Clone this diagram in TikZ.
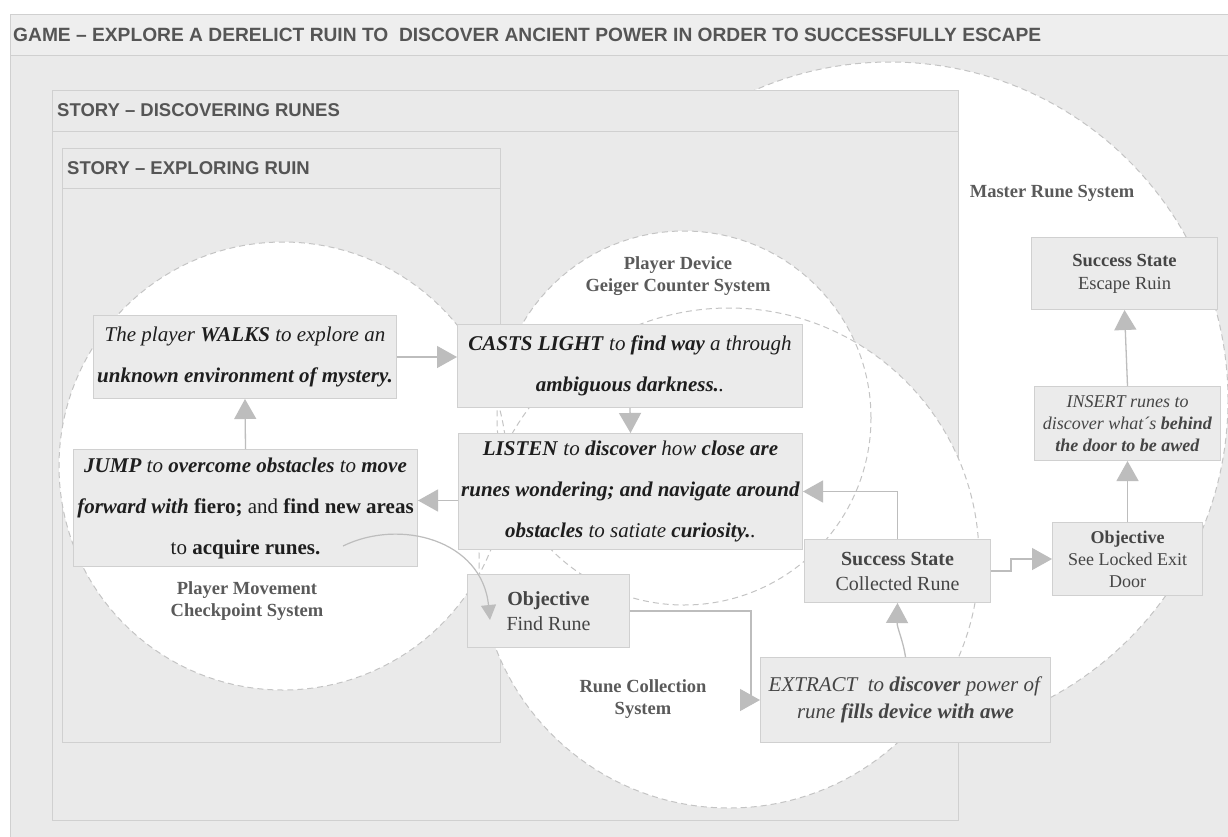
\documentclass[tikz,border=0pt]{standalone}
\usepackage{fontspec}
\setmainfont{Liberation Serif}
\newfontfamily\hdrfont{Liberation Sans}
\usetikzlibrary{arrows.meta}
\definecolor{bgc}{HTML}{EAEAEA}
\definecolor{bandc}{HTML}{EEEEEE}
\definecolor{boxfill}{HTML}{EBEBEB}
\definecolor{boxline}{HTML}{D0D0D0}
\definecolor{arrowc}{HTML}{BDBDBD}
\definecolor{dashc}{HTML}{C4C4C4}
\definecolor{hdrtext}{HTML}{555555}
\definecolor{lbltext}{HTML}{5A5A5A}
\definecolor{txtdark}{HTML}{1E1E1E}
\definecolor{txtgray}{HTML}{454545}
\tikzset{
  frame/.style={draw=boxline, fill=bgc, line width=1pt},
  circfill/.style={fill=white},
  circline/.style={draw=dashc, line width=1pt, dash pattern=on 6pt off 4pt},
  box/.style={draw=boxline, fill=boxfill, line width=1pt, anchor=north west, inner sep=0pt, align=center},
  bigtxt/.style={font=\fontsize{21}{41}\selectfont, text=txtdark},
  midtxt/.style={font=\fontsize{20}{25}\selectfont, text=txtgray},
  smalltxt/.style={font=\fontsize{18}{22}\selectfont, text=txtgray},
  lbl/.style={align=center, font=\fontsize{18.5}{22}\selectfont\bfseries, text=lbltext, inner sep=0pt},
  hdrtxt/.style={anchor=west, font=\hdrfont\fontsize{18.5}{20}\selectfont\bfseries, text=hdrtext, inner sep=0pt},
  conn/.style={draw=arrowc, line width=1.3pt, -{Triangle[length=20pt,width=22pt]}},
  connsmall/.style={draw=arrowc, line width=1.2pt, -{Triangle[length=15pt,width=15pt]}}
}
\begin{document}
\begin{tikzpicture}[x=1pt,y=-1pt]
\useasboundingbox (0,0) rectangle (1228,836);
\fill[white] (0,0) rectangle (1228,836);
% game frame
\draw[frame] (10,14) rectangle (1240,850);
\draw[draw=boxline, fill=bandc, line width=1pt] (10,14) rectangle (1240,55);
\node[hdrtxt, font=\hdrfont\fontsize{19.2}{20}\selectfont\bfseries] (gtitle) at (13,35) {GAME – EXPLORE A DERELICT RUIN TO\ \ DISCOVER ANCIENT POWER IN ORDER TO SUCCESSFULLY ESCAPE};
% master rune circle
\fill[circfill] (890,400) circle[radius=338pt];
\draw[circline] (890,400) circle[radius=338pt];
% story discovering runes
\draw[frame] (52,90) rectangle (958,820);
\draw[boxline, line width=1pt] (52,131) -- (958,131);
\node[hdrtxt] (sdisc) at (57,110) {STORY – DISCOVERING RUNES};
% story exploring ruin
\draw[frame] (62,148) rectangle (500,742);
\draw[boxline, line width=1pt] (62,188) -- (500,188);
\node[hdrtxt] (sexpl) at (67,168) {STORY – EXPLORING RUIN};
% circles
\fill[circfill] (283,466) circle[radius=224pt];
\fill[circfill] (684,418) circle[radius=187pt];
\fill[circfill] (729,558) circle[radius=250pt];
\draw[circline] (283,466) circle[radius=224pt];
\draw[circline] (684,418) circle[radius=187pt];
\draw[circline] (729,558) circle[radius=250pt];
% labels
\node[lbl] (pmlbl) at (247,601) {Player Movement\\Checkpoint System};
\node[lbl] (pdlbl) at (678,276) {Player Device\\Geiger Counter System};
\node[lbl] (rclbl) at (643,699) {Rune Collection\\System};
\node[lbl] (mrlbl) at (1052,193) {Master Rune System};
% boxes
\node[box, bigtxt, minimum width=303pt, minimum height=83pt] (walk) at (93,315)
  {\textit{The player \textbf{WALKS} to explore an}\\\textbf{\textit{unknown environment of mystery.}}};
\node[box, bigtxt, minimum width=345pt, minimum height=83pt] (cast) at (457,324)
  {\textbf{\textit{CASTS LIGHT}} \textit{to \textbf{find way} a through}\\\textbf{\textit{ambiguous darkness.}}\textit{.}};
\node[box, bigtxt, minimum width=344pt, minimum height=116pt] (listen) at (458,433)
  {\textbf{\textit{LISTEN}} \textit{to \textbf{discover} how \textbf{close are}}\\\textbf{\textit{runes wondering; and navigate around}}\\\textit{\textbf{obstacles} to satiate \textbf{curiosity.}.}};
\node[box, bigtxt, minimum width=344pt, minimum height=117pt] (jump) at (73,449)
  {\textbf{\textit{JUMP}} \textit{to \textbf{overcome obstacles} to \textbf{move}}\\\textbf{\textit{forward with}} \textbf{fiero;} and \textbf{find new areas}\\to \textbf{acquire runes.}};
\node[box, midtxt, minimum width=162pt, minimum height=73pt] (findr) at (467,574)
  {\textbf{Objective}\\Find Rune};
\node[box, midtxt, minimum width=186pt, minimum height=63pt] (coll) at (804,539)
  {\textbf{Success State}\\Collected Rune};
\node[box, midtxt, minimum width=290pt, minimum height=85pt, font=\fontsize{21}{27}\selectfont] (extr) at (760,657)
  {\textit{EXTRACT\ \ to \textbf{discover} power of}\\\textit{rune \textbf{fills device with awe}}};
\node[box, smalltxt, minimum width=150pt, minimum height=73pt] (seel) at (1052,522)
  {\textbf{Objective}\\See Locked Exit\\Door};
\node[box, smalltxt, minimum width=186pt, minimum height=74pt] (insr) at (1034,386)
  {\textit{INSERT runes to}\\\textit{discover what´s \textbf{behind}}\\\textbf{\textit{the door to be awed}}};
\node[box, smalltxt, minimum width=186pt, minimum height=72pt, font=\fontsize{18.5}{23}\selectfont] (escp) at (1031,237)
  {\textbf{Success State}\\Escape Ruin};
% connectors
\draw[conn] (walk.east) -- (walk.east -| cast.west);
\draw[conn] (cast.south) -- (listen.north);
\draw[conn] ([yshift=-9pt]listen.west) -- ([yshift=-9pt]listen.west -| jump.east);
\draw[conn] (jump.north) -- (walk.south);
\coordinate (cstart) at (343,546);
\coordinate (ctip) at (490,620);
\draw[connsmall] (cstart) .. controls (400,518) and (482,540) .. (ctip);
\draw[conn] (findr.east) -- ++(121,0) |- (extr.west);
\draw[conn] (extr.north) .. controls (903,640) and (897,628) .. (coll.south);
\draw[conn] (coll.north) |- (listen.east);
\draw[conn] (coll.east) -- ++(20,0) |- (seel.west);
\draw[conn] (seel.north) -- (insr.south);
\draw[conn] (insr.north) -- (escp.south);
\end{tikzpicture}
\end{document}
